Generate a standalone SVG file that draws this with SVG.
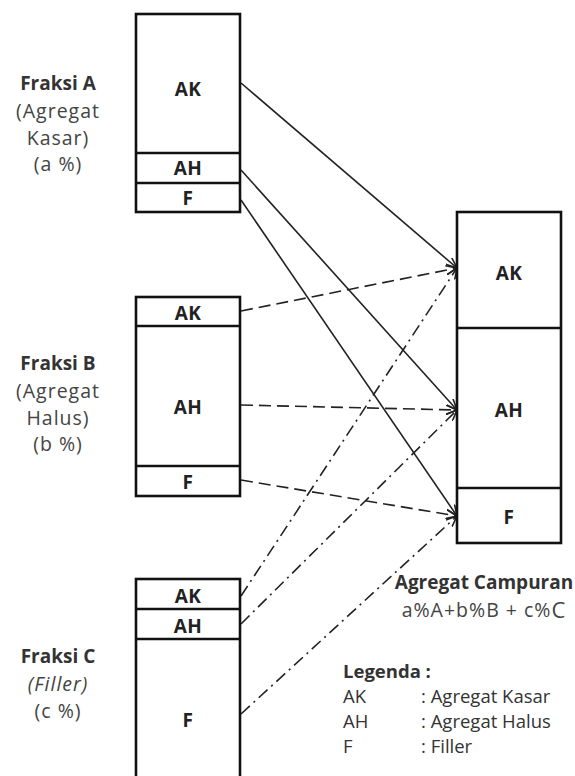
<svg xmlns="http://www.w3.org/2000/svg" width="575" height="776" viewBox="0 0 575 776">
<style>
.box{fill:#fff;stroke:#111;stroke-width:2.6}
.div{stroke:#111;stroke-width:2.6}
.bl{font-family:"Open Sans","Liberation Sans",sans-serif;font-weight:bold;font-size:19px;letter-spacing:0.5px;fill:#222;text-anchor:middle;dominant-baseline:central}
.lt{font-family:"Open Sans","Liberation Sans",sans-serif;font-size:19.5px;letter-spacing:1px;fill:#444;text-anchor:middle;dominant-baseline:central}
.lb{font-family:"Open Sans","Liberation Sans",sans-serif;font-size:19px;font-weight:bold;fill:#333;text-anchor:middle;dominant-baseline:central}
.lg{font-family:"Open Sans","Liberation Sans",sans-serif;font-size:18.5px;fill:#333;dominant-baseline:central}
.c{fill:none;stroke:#222;stroke-width:1.6;marker-end:url(#arr)}
.dash{stroke-dasharray:12 6}
.dd{stroke-dasharray:12 5 2 5}
</style>
<defs>
<marker id="arr" viewBox="0 0 12 10" refX="11" refY="5" markerWidth="12" markerHeight="10" markerUnits="userSpaceOnUse" orient="auto">
<path d="M0,0.5 L11,5 L0,9.5" fill="none" stroke="#222" stroke-width="1.6"/>
</marker>
</defs>

<g id="connectors">
<line class="c" x1="241" y1="83" x2="457" y2="268"/>
<line class="c" x1="241" y1="170" x2="457" y2="410"/>
<line class="c" x1="241" y1="200" x2="457" y2="516"/>
<line class="c dash" x1="241" y1="311" x2="457" y2="268"/>
<line class="c dash" x1="241" y1="405" x2="457" y2="410"/>
<line class="c dash" x1="241" y1="480" x2="457" y2="516"/>
<line class="c dd" x1="241" y1="596" x2="457" y2="268"/>
<line class="c dd" x1="241" y1="624" x2="457" y2="410"/>
<line class="c dd" x1="241" y1="714" x2="457" y2="516"/>
</g>

<g id="fraksiA">
<rect class="box" x="136" y="14" width="104" height="198"/>
<line class="div" x1="136" y1="153" x2="240" y2="153"/>
<line class="div" x1="136" y1="183" x2="240" y2="183"/>
<text class="bl" x="188" y="89">AK</text>
<text class="bl" x="188" y="168">AH</text>
<text class="bl" x="188" y="198">F</text>
<text class="lb" x="58" y="83">Fraksi A</text>
<text class="lt" x="58" y="110">(Agregat</text>
<text class="lt" x="58" y="137">Kasar)</text>
<text class="lt" x="58" y="163">(a %)</text>
</g>

<g id="fraksiB">
<rect class="box" x="136" y="297" width="104" height="199"/>
<line class="div" x1="136" y1="326" x2="240" y2="326"/>
<line class="div" x1="136" y1="466" x2="240" y2="466"/>
<text class="bl" x="188" y="313">AK</text>
<text class="bl" x="188" y="407">AH</text>
<text class="bl" x="188" y="482">F</text>
<text class="lb" x="58" y="363">Fraksi B</text>
<text class="lt" x="58" y="390">(Agregat</text>
<text class="lt" x="58" y="417">Halus)</text>
<text class="lt" x="58" y="443">(b %)</text>
</g>

<g id="fraksiC">
<rect class="box" x="136" y="579" width="104" height="210"/>
<line class="div" x1="136" y1="609" x2="240" y2="609"/>
<line class="div" x1="136" y1="639" x2="240" y2="639"/>
<text class="bl" x="188" y="596">AK</text>
<text class="bl" x="188" y="626">AH</text>
<text class="bl" x="188" y="720">F</text>
<text class="lb" x="58" y="656">Fraksi C</text>
<text class="lt" x="58" y="683" font-style="italic">(Filler)</text>
<text class="lt" x="58" y="710">(c %)</text>
</g>

<g id="campuran">
<rect class="box" x="457" y="212" width="104" height="331"/>
<line class="div" x1="457" y1="328" x2="561" y2="328"/>
<line class="div" x1="457" y1="488" x2="561" y2="488"/>
<text class="bl" x="509" y="273">AK</text>
<text class="bl" x="509" y="410">AH</text>
<text class="bl" x="509" y="517">F</text>
<text class="lb" x="484" y="582">Agregat Campuran</text>
<text class="lt" x="484" y="609" font-size="18" letter-spacing="0.3">a%A+b%B + c%<tspan font-size="22">C</tspan></text>
</g>

<g id="legenda">
<text class="lg" x="343" y="670" font-weight="bold" font-size="19">Legenda :</text>
<text class="lg" x="343" y="695">AK</text>
<text class="lg" x="421" y="695">: Agregat Kasar</text>
<text class="lg" x="343" y="720">AH</text>
<text class="lg" x="421" y="720">: Agregat Halus</text>
<text class="lg" x="343" y="745">F</text>
<text class="lg" x="421" y="745">: Filler</text>
</g>
</svg>
